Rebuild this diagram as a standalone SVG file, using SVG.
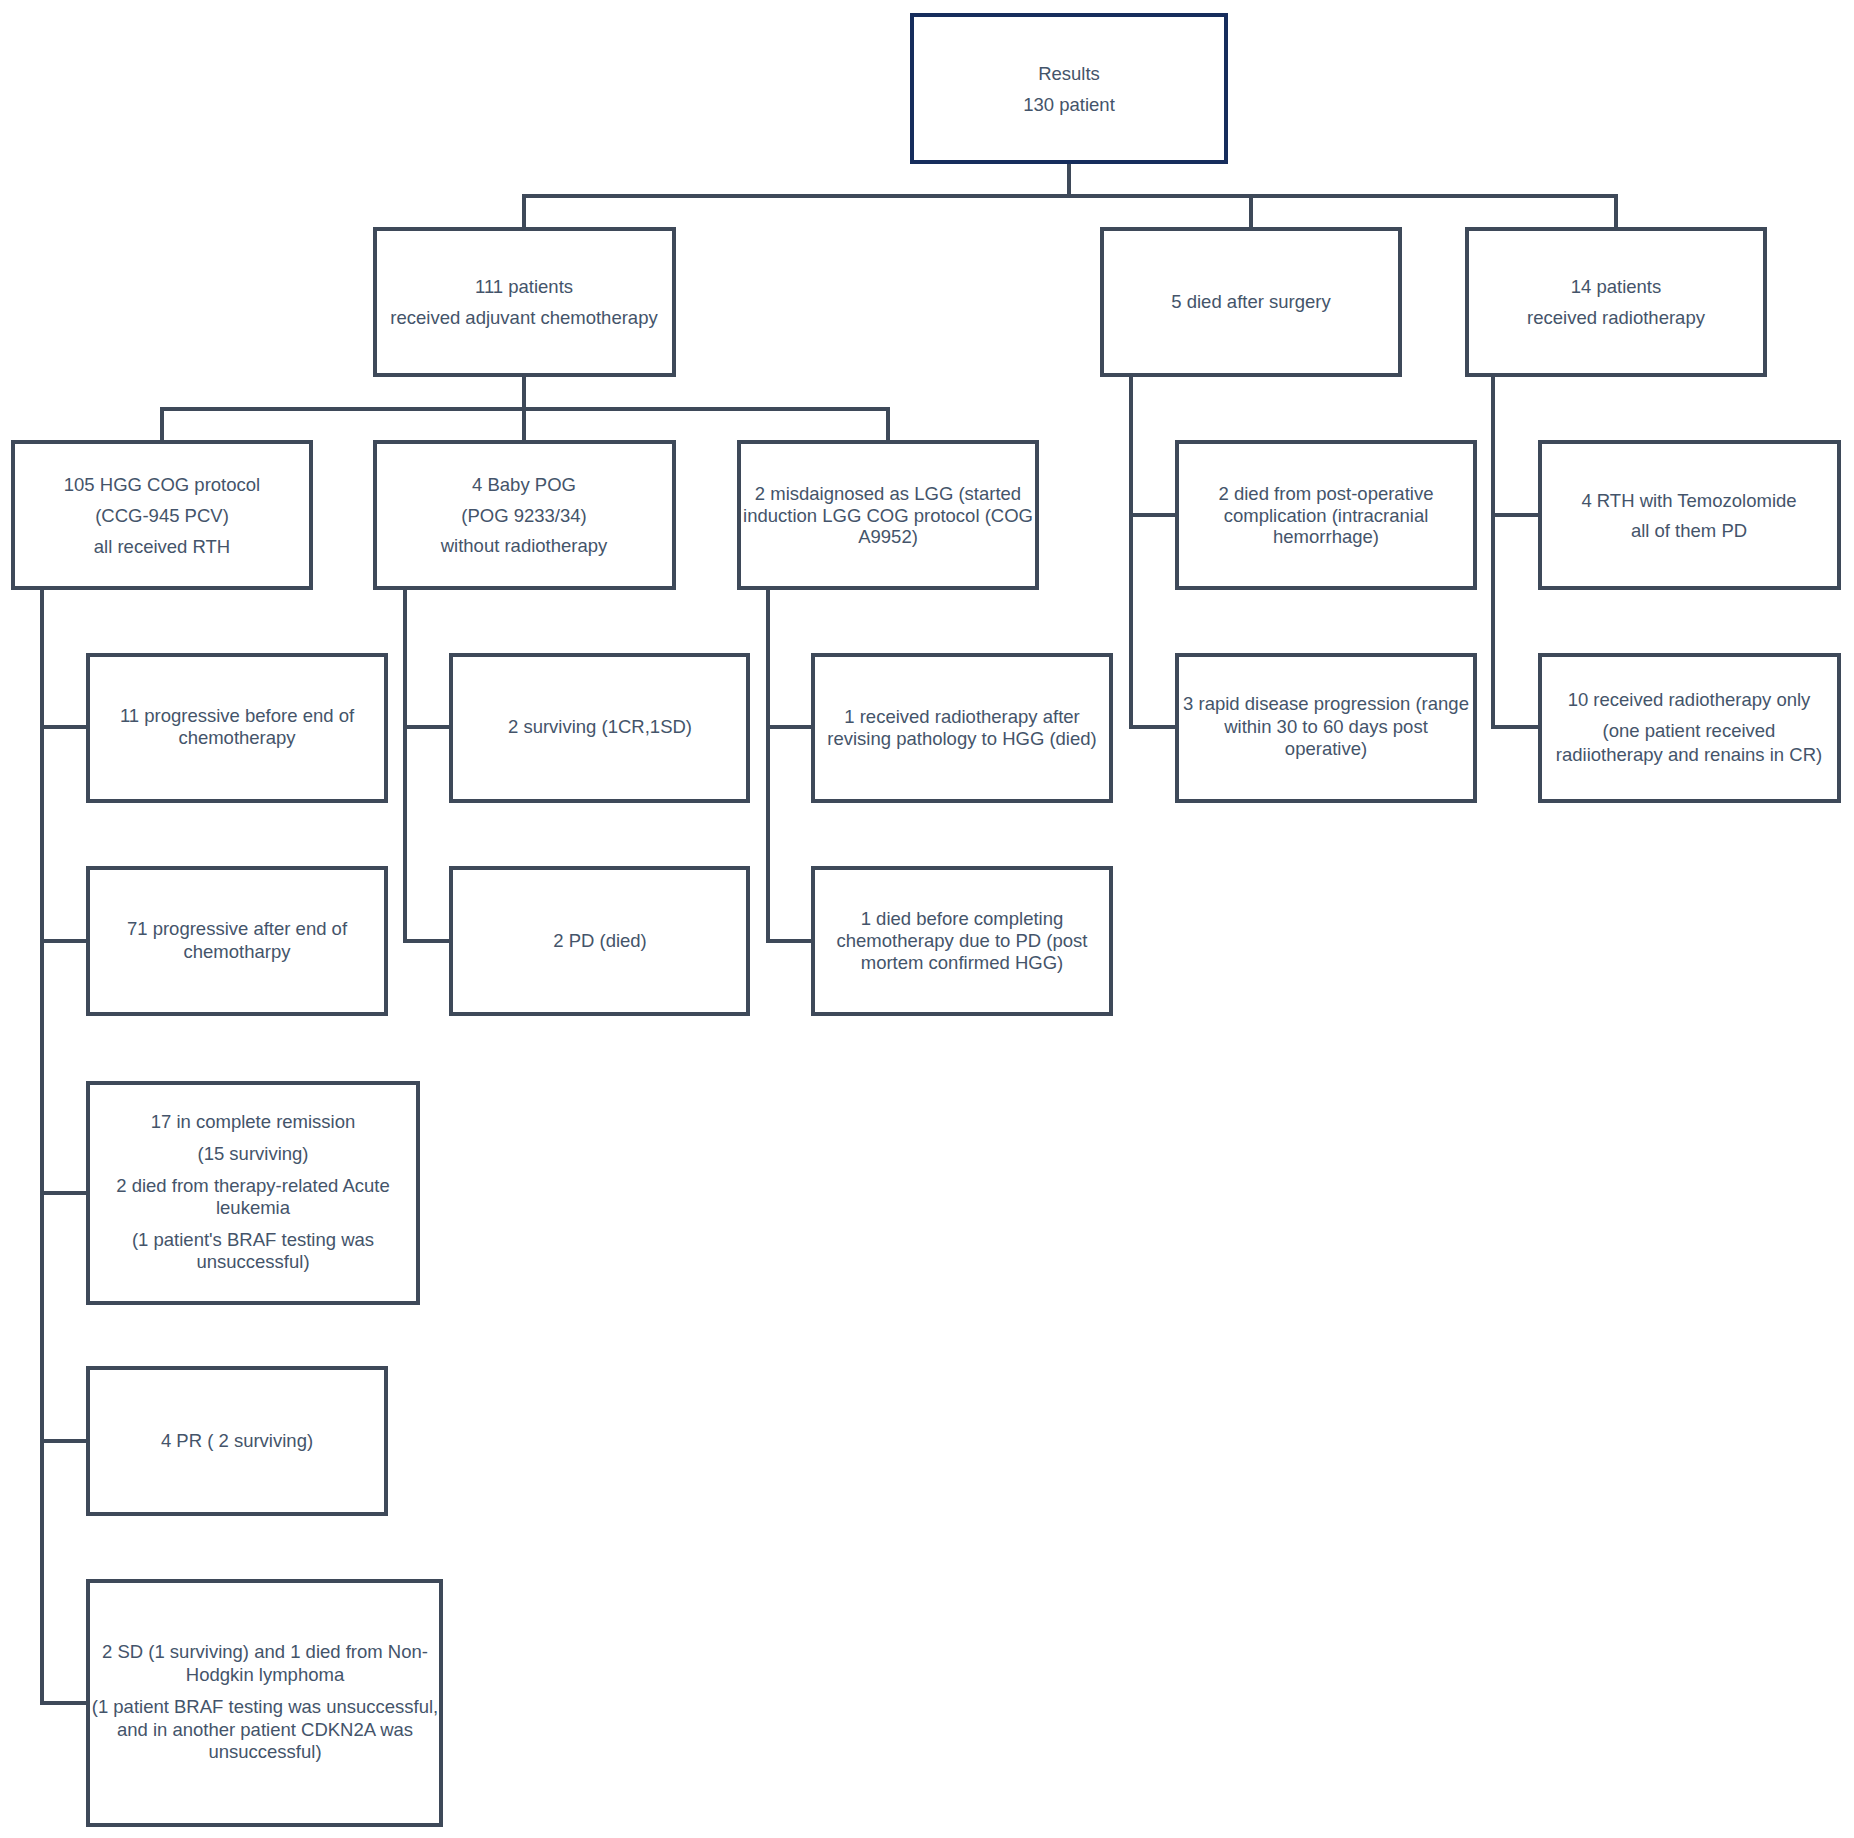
<svg xmlns="http://www.w3.org/2000/svg" width="1854" height="1838" viewBox="0 0 1854 1838">
<style>
.box{fill:#ffffff;stroke:#3e4959;stroke-width:4}
.root{fill:#ffffff;stroke:#162d5c;stroke-width:4}
.lbl{font-family:"Liberation Sans",Arial,sans-serif;font-size:18.5px;fill:#44546a;text-anchor:middle}
.conn{fill:none;stroke:#3e4959;stroke-width:4;stroke-linejoin:miter;stroke-linecap:square}
</style>
<rect x="0" y="0" width="1854" height="1838" fill="#ffffff"/>
<g id="connectors">
<path class="conn" d="M1069 164V196M524 196H1616M524 196V227M1251 196V227M1616 196V227"/>
<path class="conn" d="M524 377V409M162 409H888M162 409V440M524 409V440M888 409V440"/>
<path class="conn" d="M1131 377V727H1175M1131 515H1175"/>
<path class="conn" d="M1493 377V727H1538M1493 515H1538"/>
<path class="conn" d="M42 590V1703H86M42 727H86M42 941H86M42 1193H86M42 1441H86"/>
<path class="conn" d="M405 590V941H449M405 727H449"/>
<path class="conn" d="M768 590V941H811M768 727H811"/>
</g>
<g id="root">
<rect class="root" x="912" y="15" width="314" height="147"/>
<text class="lbl" x="1069" y="80">Results</text>
<text class="lbl" x="1069" y="111">130 patient</text>
</g>
<g id="adjuvant">
<rect class="box" x="375" y="229" width="299" height="146"/>
<text class="lbl" x="524" y="293">111 patients</text>
<text class="lbl" x="524" y="324">received adjuvant chemotherapy</text>
</g>
<g id="died-surgery">
<rect class="box" x="1102" y="229" width="298" height="146"/>
<text class="lbl" x="1251" y="308">5 died after surgery</text>
</g>
<g id="radiotherapy">
<rect class="box" x="1467" y="229" width="298" height="146"/>
<text class="lbl" x="1616" y="293">14 patients</text>
<text class="lbl" x="1616" y="324">received radiotherapy</text>
</g>
<g id="hgg">
<rect class="box" x="13" y="442" width="298" height="146"/>
<text class="lbl" x="162" y="491">105 HGG COG protocol</text>
<text class="lbl" x="162" y="522">(CCG-945 PCV)</text>
<text class="lbl" x="162" y="553">all received RTH</text>
</g>
<g id="pog">
<rect class="box" x="375" y="442" width="299" height="146"/>
<text class="lbl" x="524" y="491">4 Baby POG</text>
<text class="lbl" x="524" y="522">(POG 9233/34)</text>
<text class="lbl" x="524" y="552">without radiotherapy</text>
</g>
<g id="misdiag">
<rect class="box" x="739" y="442" width="298" height="146"/>
<text class="lbl" x="888" y="500">2 misdaignosed as LGG (started</text>
<text class="lbl" x="888" y="522">induction LGG COG protocol (COG</text>
<text class="lbl" x="888" y="543">A9952)</text>
</g>
<g id="postop">
<rect class="box" x="1177" y="442" width="298" height="146"/>
<text class="lbl" x="1326" y="500">2 died from post-operative</text>
<text class="lbl" x="1326" y="522">complication (intracranial</text>
<text class="lbl" x="1326" y="543">hemorrhage)</text>
</g>
<g id="temozolomide">
<rect class="box" x="1540" y="442" width="299" height="146"/>
<text class="lbl" x="1689" y="507">4 RTH with Temozolomide</text>
<text class="lbl" x="1689" y="537">all of them PD</text>
</g>
<g id="hgg-before">
<rect class="box" x="88" y="655" width="298" height="146"/>
<text class="lbl" x="237" y="722">11 progressive before end of</text>
<text class="lbl" x="237" y="744">chemotherapy</text>
</g>
<g id="pog-surviving">
<rect class="box" x="451" y="655" width="297" height="146"/>
<text class="lbl" x="600" y="733">2 surviving (1CR,1SD)</text>
</g>
<g id="misdiag-rt">
<rect class="box" x="813" y="655" width="298" height="146"/>
<text class="lbl" x="962" y="723">1 received radiotherapy after</text>
<text class="lbl" x="962" y="745">revising pathology to HGG (died)</text>
</g>
<g id="rapid">
<rect class="box" x="1177" y="655" width="298" height="146"/>
<text class="lbl" x="1326" y="710">3 rapid disease progression (range</text>
<text class="lbl" x="1326" y="733">within 30 to 60 days post</text>
<text class="lbl" x="1326" y="755">operative)</text>
</g>
<g id="rt-only">
<rect class="box" x="1540" y="655" width="299" height="146"/>
<text class="lbl" x="1689" y="706">10 received radiotherapy only</text>
<text class="lbl" x="1689" y="737">(one patient received</text>
<text class="lbl" x="1689" y="761">radiiotherapy and renains in CR)</text>
</g>
<g id="hgg-after">
<rect class="box" x="88" y="868" width="298" height="146"/>
<text class="lbl" x="237" y="935">71 progressive after end of</text>
<text class="lbl" x="237" y="958">chemotharpy</text>
</g>
<g id="pog-pd">
<rect class="box" x="451" y="868" width="297" height="146"/>
<text class="lbl" x="600" y="947">2 PD (died)</text>
</g>
<g id="misdiag-died">
<rect class="box" x="813" y="868" width="298" height="146"/>
<text class="lbl" x="962" y="925">1 died before completing</text>
<text class="lbl" x="962" y="947">chemotherapy due to PD (post</text>
<text class="lbl" x="962" y="969">mortem confirmed HGG)</text>
</g>
<g id="hgg-cr">
<rect class="box" x="88" y="1083" width="330" height="220"/>
<text class="lbl" x="253" y="1128">17 in complete remission</text>
<text class="lbl" x="253" y="1160">(15 surviving)</text>
<text class="lbl" x="253" y="1192">2 died from therapy-related Acute</text>
<text class="lbl" x="253" y="1214">leukemia</text>
<text class="lbl" x="253" y="1246">(1 patient's BRAF testing was</text>
<text class="lbl" x="253" y="1268">unsuccessful)</text>
</g>
<g id="hgg-pr">
<rect class="box" x="88" y="1368" width="298" height="146"/>
<text class="lbl" x="237" y="1447">4 PR ( 2 surviving)</text>
</g>
<g id="hgg-sd">
<rect class="box" x="88" y="1581" width="353" height="244"/>
<text class="lbl" x="265" y="1658">2 SD (1 surviving) and 1 died from Non-</text>
<text class="lbl" x="265" y="1681">Hodgkin lymphoma</text>
<text class="lbl" x="265" y="1713">(1 patient BRAF testing was unsuccessful,</text>
<text class="lbl" x="265" y="1736">and in another patient CDKN2A was</text>
<text class="lbl" x="265" y="1758">unsuccessful)</text>
</g>
</svg>
